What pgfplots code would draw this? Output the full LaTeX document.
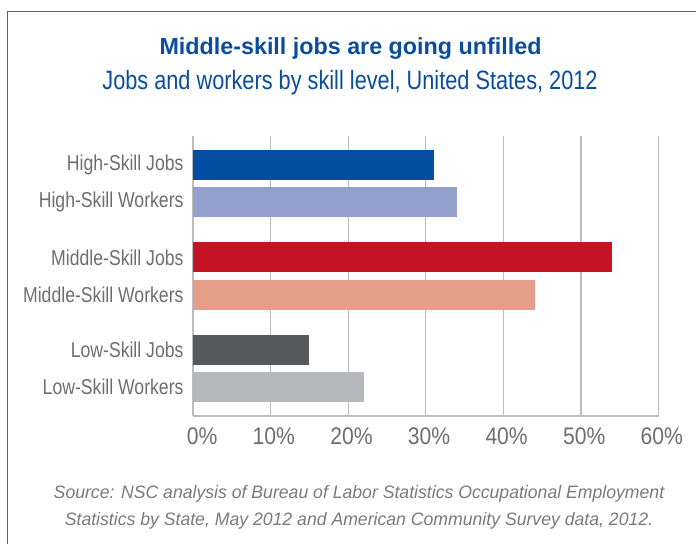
\documentclass[border=0pt]{standalone}
\usepackage{pgfplots}
\pgfplotsset{compat=1.18}
\usepackage{fontspec}
\setmainfont{Liberation Sans}
\newfontfamily\labelfont{Liberation Sans}[FakeStretch=0.82]
\newfontfamily\tickfont{Liberation Sans}[FakeStretch=0.88]
\newfontfamily\titlefont{Liberation Sans}
\newfontfamily\subfont{Liberation Sans}[FakeStretch=0.82]
\newfontfamily\srcfont{Liberation Sans}[FakeStretch=0.98]

\definecolor{hjobs}{HTML}{034EA2}
\definecolor{hwork}{HTML}{92A0CB}
\definecolor{mjobs}{HTML}{C41426}
\definecolor{mwork}{HTML}{E59E8A}
\definecolor{ljobs}{HTML}{58595B}
\definecolor{lwork}{HTML}{B7B8BB}
\definecolor{titleblue}{HTML}{0A4D9B}
\definecolor{tickgray}{HTML}{6D6E71}
\definecolor{gridgray}{HTML}{BDBDBD}
\definecolor{framegray}{HTML}{5F6368}
\definecolor{srcgray}{HTML}{7A7A7A}

\begin{document}
\begin{tikzpicture}[x=1bp,y=1bp]
  \path[use as bounding box] (0,0) rectangle (696,544);
  % frame (cut off at right and bottom)
  \draw[framegray, line width=1bp] (7,0) -- (7,532) -- (696,532);

  \node[anchor=base, text=titleblue, font=\titlefont\bfseries\fontsize{23.3bp}{28bp}\selectfont]
    at (350.5,489.7) {Middle-skill jobs are going unfilled};
  \node[anchor=base, text=titleblue, font=\subfont\fontsize{26.5bp}{30bp}\selectfont]
    at (350,454) {Jobs and workers by skill level, United States, 2012};

  \begin{axis}[
      at={(193bp,128bp)}, anchor=south west,
      scale only axis,
      width=465.7bp, height=280bp,
      xmin=0, xmax=60,
      ymin=-0.78, ymax=6.78,
      y dir=reverse,
      xbar, bar width=30bp, bar shift=0pt,
      axis x line*=bottom, axis y line*=left,
      axis line style={draw=gridgray, line width=1.4bp},
      xmajorgrids, major grid style={draw=gridgray, line width=1.2bp},
      major tick length=0pt,
      xtick={0,10,...,60},
      xticklabels={0\%,10\%,20\%,30\%,40\%,50\%,60\%},
      xticklabel style={font=\tickfont\fontsize{24bp}{24bp}\selectfont,
        text=tickgray, anchor=north east, inner sep=0pt,
        xshift=24.5bp, yshift=-12bp},
      ytick={0,1,2.5,3.5,5,6},
      yticklabels={High-Skill Jobs,High-Skill Workers,Middle-Skill Jobs,
        Middle-Skill Workers,Low-Skill Jobs,Low-Skill Workers},
      yticklabel style={font=\labelfont\fontsize{21.5bp}{21.5bp}\selectfont,
        text=tickgray, xshift=-6bp},
    ]
    \addplot[fill=hjobs, draw=none] coordinates {(31,0)};
    \addplot[fill=hwork, draw=none] coordinates {(34,1)};
    \addplot[fill=mjobs, draw=none] coordinates {(54,2.5)};
    \addplot[fill=mwork, draw=none] coordinates {(44,3.5)};
    \addplot[fill=ljobs, draw=none] coordinates {(15,5)};
    \addplot[fill=lwork, draw=none] coordinates {(22,6)};
  \end{axis}

  \node[anchor=base, text=srcgray, font=\srcfont\itshape\fontsize{18bp}{18bp}\selectfont]
    at (359,45.5) {Source: NSC analysis of Bureau of Labor Statistics Occupational Employment};
  \node[anchor=base, text=srcgray, font=\srcfont\itshape\fontsize{18bp}{18bp}\selectfont]
    at (359,18.5) {Statistics by State, May 2012 and American Community Survey data, 2012.};
\end{tikzpicture}
\end{document}
